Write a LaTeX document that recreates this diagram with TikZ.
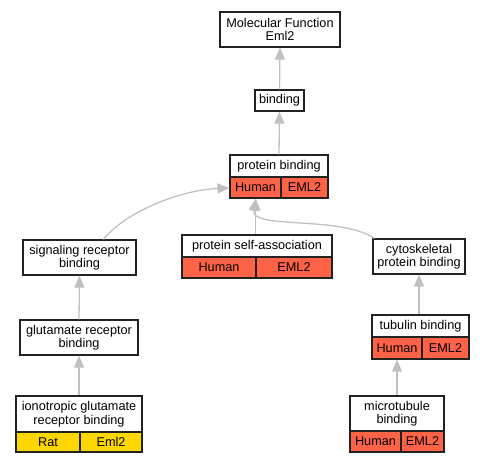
\documentclass[tikz,border=0pt]{standalone}
\usepackage{fontspec}
\setmainfont{Liberation Sans}
\usetikzlibrary{arrows.meta,calc}
\definecolor{tomatoc}{HTML}{FF6347}
\definecolor{goldc}{HTML}{FFD700}
\definecolor{edgec}{HTML}{C0C0C0}
\definecolor{borderc}{HTML}{222222}
\tikzset{
  box/.style={draw=borderc, line width=1.2pt, fill=white, inner sep=0pt, align=center,
    font=\fontsize{12.7}{13.5}\selectfont},
  hcell/.style={box, fill=tomatoc},
  ycell/.style={box, fill=goldc},
  edge/.style={draw=edgec, line width=1.3pt, -{Triangle[length=12pt,width=10pt]}}
}
\begin{document}
\begin{tikzpicture}[x=1pt,y=-1pt]
\useasboundingbox (0,0) rectangle (484,464);
% nodes
\node[box, minimum width=120pt, minimum height=35pt] (mf) at (280,29.5) {Molecular Function\\Eml2};
\node[box, minimum width=49pt, minimum height=21pt] (bind) at (279.5,100.5) {binding};
\node[box, minimum width=98pt, minimum height=22pt] (pb) at (279,166) {protein binding};
\node[hcell, minimum width=51pt, minimum height=21pt] (pbh) at (255.5,187.5) {Human};
\node[hcell, minimum width=47pt, minimum height=21pt] (pbe) at (304.5,187.5) {EML2};
\node[box, minimum width=113pt, minimum height=35pt] (srb) at (79.5,257.5) {signaling receptor\\binding};
\node[box, minimum width=150pt, minimum height=22pt] (psa) at (257,246) {protein self-association};
\node[hcell, minimum width=74pt, minimum height=21pt] (psah) at (219,267.5) {Human};
\node[hcell, minimum width=76pt, minimum height=21pt] (psae) at (294,267.5) {EML2};
\node[box, minimum width=92pt, minimum height=35pt] (cpb) at (419,256.5) {cytoskeletal\\protein binding};
\node[box, minimum width=118pt, minimum height=35pt] (grb) at (79,337.5) {glutamate receptor\\binding};
\node[box, minimum width=97pt, minimum height=22pt] (tb) at (420.5,326) {tubulin binding};
\node[hcell, minimum width=50pt, minimum height=22pt] (tbh) at (397,348) {Human};
\node[hcell, minimum width=47pt, minimum height=22pt] (tbe) at (445.5,348) {EML2};
\node[box, minimum width=126pt, minimum height=36pt] (igrb) at (79,414) {ionotropic glutamate\\receptor binding};
\node[ycell, minimum width=64pt, minimum height=20pt] (igrbr) at (48,442) {Rat};
\node[ycell, minimum width=62pt, minimum height=20pt] (igrbe) at (111,442) {Eml2};
\node[box, minimum width=94pt, minimum height=35pt] (mb) at (397,413.5) {microtubule\\binding};
\node[hcell, minimum width=51pt, minimum height=21pt] (mbh) at (375.5,441.5) {Human};
\node[hcell, minimum width=43pt, minimum height=21pt] (mbe) at (422.5,441.5) {EML2};
% edges
\path[edge] (bind.north) -- (mf.south);
\path[edge] (pb.north) -- (bind.south);
\path[edge] (psa.north -| pbh.south) -- (pbh.south);
\path[edge] ($(srb.north)+(24,0)$) .. controls (125,212) and (180,190) .. (pbh.south west |- 0,188);
\path[edge] ($(cpb.north west)+(2,0)$) .. controls (340,215) and (250,230) .. ($(pbh.south)+(0.5,0)$);
\path[edge] (grb.north) -- (srb.south);
\path[edge] (igrb.north) -- (grb.south);
\path[edge] (tb.north -| cpb.south) -- (cpb.south);
\path[edge] (mb.north) -- (tbh.south);
\end{tikzpicture}
\end{document}
